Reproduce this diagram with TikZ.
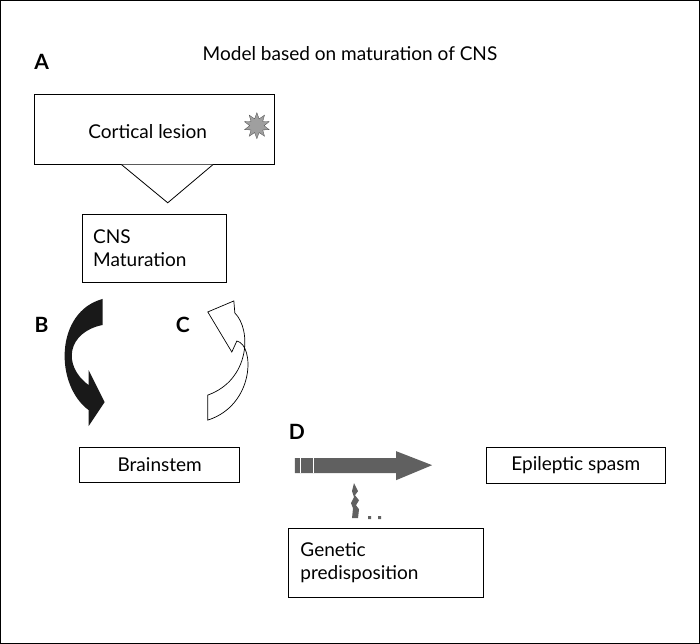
\documentclass[tikz,border=0pt]{standalone}
\usepackage{fontspec}
\setmainfont{Lato}
\usetikzlibrary{shapes.misc,shapes.geometric}
\begin{document}
\begin{tikzpicture}[x=1pt,y=-1pt,
  box/.style={draw,line width=0.8pt,fill=white},
  lbl/.style={font=\fontsize{21}{21}\selectfont\bfseries},
  txt/.style={font=\fontsize{19}{23}\selectfont}]
\draw[line width=1pt] (1,1) rectangle (699,643);
\node[lbl] (A) at (42,62) {A};
\node[txt] (title) at (350,54) {Model based on maturation of CNS};
\node[box,minimum width=240pt,minimum height=70pt] (cl) at (155,130) {};
\node[txt] (clt) at (148,132) {Cortical lesion};
\node[star,star points=10,star point ratio=1.8,fill=gray!75,draw=gray!60!black,line width=0.3pt,minimum size=26pt,inner sep=0pt] (st) at (257,126) {};
\fill[white] (122,165) -- (213,165) -- (168,203) -- cycle;
\draw[line width=0.8pt] (122,165) -- (168,203) -- (213,165);
\node[box,minimum width=144pt,minimum height=67pt] (cns) at (155,248.5) {};
\node[txt,align=left,anchor=west] (cnst) at (90,248) {CNS\\Maturation};
\node[lbl] (B) at (42,325) {B};
\node[lbl] (C) at (183,325) {C};
\fill[black!90] (103,299) .. controls (55,312) and (55,385) .. (89,410) -- (89,426) -- (105,402) -- (89,370) -- (89,385) .. controls (62,365) and (68,332) .. (103,325) -- cycle;
\draw[line width=0.7pt,fill=white] (208,420) .. controls (255,405) and (255,345) .. (237,341) -- (232,352) -- (208,312) -- (234,301) -- (235,313) .. controls (252,330) and (250,380) .. (208,395) -- cycle;
\node[lbl] (D) at (297,432) {D};
\node[box,minimum width=160pt,minimum height=35pt] (bs) at (160,464.5) {};
\node[txt] (bst) at (160,464) {Brainstem};
\fill[gray!75!black] (295,458) -- (396,458) -- (396,451) -- (432,465) -- (396,480) -- (396,473) -- (295,473) -- cycle;
\draw[white,line width=0.8pt] (300,458) -- (300,473) (313,458) -- (313,473);
\fill[gray!75!black] (354,483) -- (358,491) -- (355,495) -- (359,500) -- (356,505) -- (359,509) -- (358,518) -- (352,518) -- (353,508) -- (351,503) -- (354,497) -- (352,491) -- cycle;
\fill[gray!75!black] (368,516) rectangle (371,519) (378,516) rectangle (381,519);
\node[box,minimum width=179pt,minimum height=36pt] (es) at (575.5,465) {};
\node[txt] (est) at (575.5,465) {Epileptic spasm};
\node[box,minimum width=195pt,minimum height=69pt] (gp) at (385.5,562.5) {};
\node[txt,align=left,anchor=west] (gpt) at (297,562) {Genetic\\predisposition};
\end{tikzpicture}
\end{document}
